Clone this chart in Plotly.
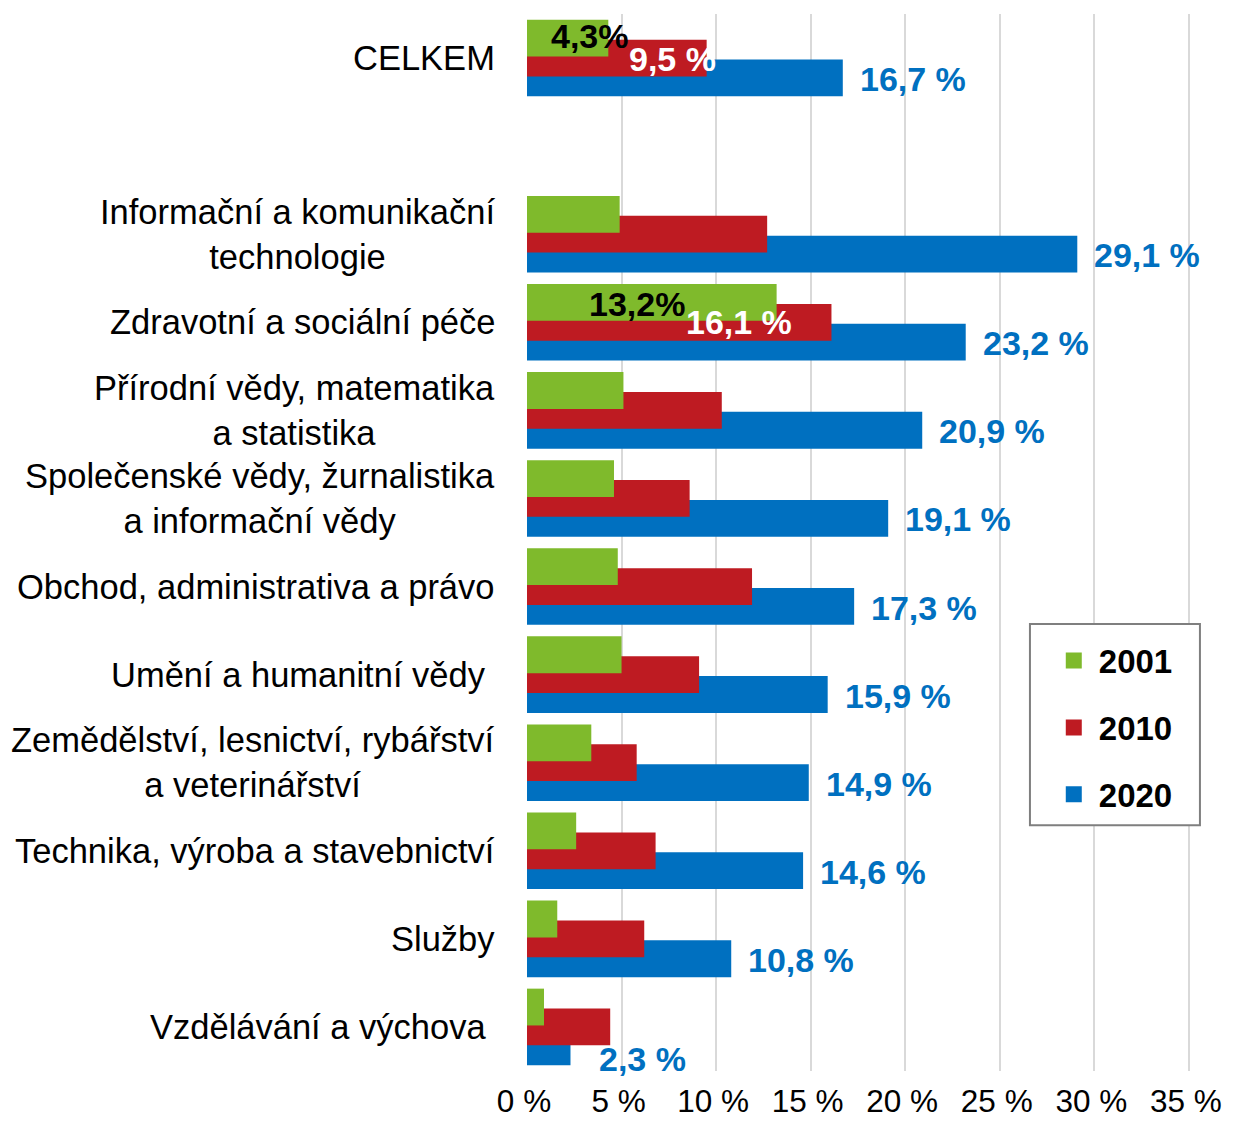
import plotly.graph_objects as go

# ---------------- data ----------------
categories = [
    "CELKEM",
    " ",
    "Informační a komunikační<br>technologie",
    "Zdravotní a sociální péče",
    "Přírodní vědy, matematika<br>a statistika",
    "Společenské vědy, žurnalistika<br>a informační vědy",
    "Obchod, administrativa a právo",
    "Umění a humanitní vědy\u00a0",
    "Zemědělství, lesnictví, rybářství<br>a veterinářství",
    "Technika, výroba a stavebnictví",
    "Služby",
    "Vzdělávání a výchova\u00a0",
]
years = ["2001", "2010", "2020"]
v2001 = [4.3, None, 4.9, 13.2, 5.1, 4.6, 4.8, 5.0, 3.4, 2.6, 1.6, 0.9]
v2010 = [9.5, None, 12.7, 16.1, 10.3, 8.6, 11.9, 9.1, 5.8, 6.8, 6.2, 4.4]
v2020 = [16.7, None, 29.1, 23.2, 20.9, 19.1, 17.3, 15.9, 14.9, 14.6, 10.8, 2.3]
tick_values = [0, 5, 10, 15, 20, 25, 30, 35]
tick_labels = ["0 %", "5 %", "10 %", "15 %", "20 %", "25 %", "30 %", "35 %"]
labeled_2001 = ["CELKEM", "Zdravotní a sociální péče"]
labeled_2010 = ["CELKEM", "Zdravotní a sociální péče"]

# ---------------- style ----------------
FONT = "Liberation Sans, Arial, sans-serif"
colors = {"2001": "#7FBA2C", "2010": "#BE1B22", "2020": "#0070C0"}
BAR_W = 0.418
offsets = {"2001": -0.435, "2010": -0.209, "2020": 0.017}

fig = go.Figure()
series = {"2001": v2001, "2010": v2010, "2020": v2020}
# draw 2020 first so that earlier years overlap on top
for yr in ["2020", "2010", "2001"]:
    fig.add_trace(go.Bar(
        x=series[yr], y=categories, orientation="h", name=yr,
        width=BAR_W, offset=offsets[yr],
        marker=dict(color=colors[yr], line=dict(width=0)),
        showlegend=False, hoverinfo="x+y",
    ))

# legend entries
for yr in years:
    fig.add_trace(go.Scatter(
        x=[None], y=[None], mode="markers", name=f"<b>{yr}</b>",
        legendgroup=yr, showlegend=True,
        marker=dict(symbol="square", size=18, color=colors[yr]),
    ))

ann = []
# category labels
for cat in categories:
    if not cat.strip():
        continue
    ann.append(dict(
        x=0, xref="paper", y=cat, yref="y", text=cat, showarrow=False,
        xanchor="right", yanchor="middle", align="center", xshift=-30,
        font=dict(family=FONT, size=34.5, color="black"),
    ))

def fmt(v, space=True):
    s = f"{v:.1f}".replace(".", ",")
    return s + (" %" if space else "%")

# 2020 labels (outside, blue)
special_2020 = {"Vzdělávání a výchova\u00a0": (27, -32)}
for cat, v in zip(categories, v2020):
    if v is None:
        continue
    dx, dy = special_2020.get(cat, (15, -21))
    ann.append(dict(
        x=v, xref="x", y=cat, yref="y", text=f"<b>{fmt(v)}</b>", showarrow=False,
        xanchor="left", yanchor="middle", xshift=dx, yshift=dy,
        font=dict(family=FONT, size=34, color=colors["2020"]),
    ))

shift_2001 = {"CELKEM": (23, 22), "Zdravotní a sociální péče": (-90, 18)}
shift_2010 = {"CELKEM": (11, -1), "Zdravotní a sociální péče": (-37, 0)}
for cat, v in zip(categories, v2001):
    if cat in labeled_2001:
        dx, dy = shift_2001[cat]
        ann.append(dict(
            x=v, xref="x", y=cat, yref="y", text=f"<b>{fmt(v, False)}</b>", showarrow=False,
            xanchor="right", yanchor="middle", xshift=dx, yshift=dy,
            font=dict(family=FONT, size=34, color="black"),
        ))
for cat, v in zip(categories, v2010):
    if cat in labeled_2010:
        dx, dy = shift_2010[cat]
        ann.append(dict(
            x=v, xref="x", y=cat, yref="y", text=f"<b>{fmt(v)}</b>", showarrow=False,
            xanchor="right", yanchor="middle", xshift=dx, yshift=dy,
            font=dict(family=FONT, size=34, color="white"),
        ))

# The page body has an 8px margin, so the figure is sized to fit the window.
fig.update_layout(
    width=1220, height=1117,
    margin=dict(l=519, r=34, t=6, b=49, pad=0),
    paper_bgcolor="white", plot_bgcolor="white",
    barmode="overlay",
    font=dict(family=FONT, size=32, color="black"),
    annotations=ann,
    showlegend=True,
    legend=dict(
        x=0.787, y=0.4148, xanchor="left", yanchor="top",
        bgcolor="rgba(0,0,0,0)", borderwidth=0, itemwidth=40,
        font=dict(family=FONT, size=33, color="black"),
        traceorder="grouped", tracegroupgap=21,
    ),
    shapes=[dict(
        type="rect", xref="paper", yref="paper",
        x0=0.7586, x1=1.015, y0=0.2326, y1=0.4228,
        line=dict(color="#7F7F7F", width=2), fillcolor="white", layer="above",
    )],
    xaxis=dict(
        range=[0, 35.06], tickvals=tick_values, ticktext=tick_labels,
        showgrid=True, gridcolor="#D9D9D9", gridwidth=2,
        zeroline=False, showline=False, ticks="",
        tickfont=dict(family=FONT, size=31.5, color="black"),
        ticklabelstandoff=8, ticklabelshift=-3, fixedrange=True,
    ),
    yaxis=dict(
        type="category", categoryorder="array", categoryarray=categories,
        range=[11.5, -0.5], showgrid=False, zeroline=False, showline=False,
        showticklabels=False, ticks="", fixedrange=True,
    ),
)

fig.write_html("out.html")
